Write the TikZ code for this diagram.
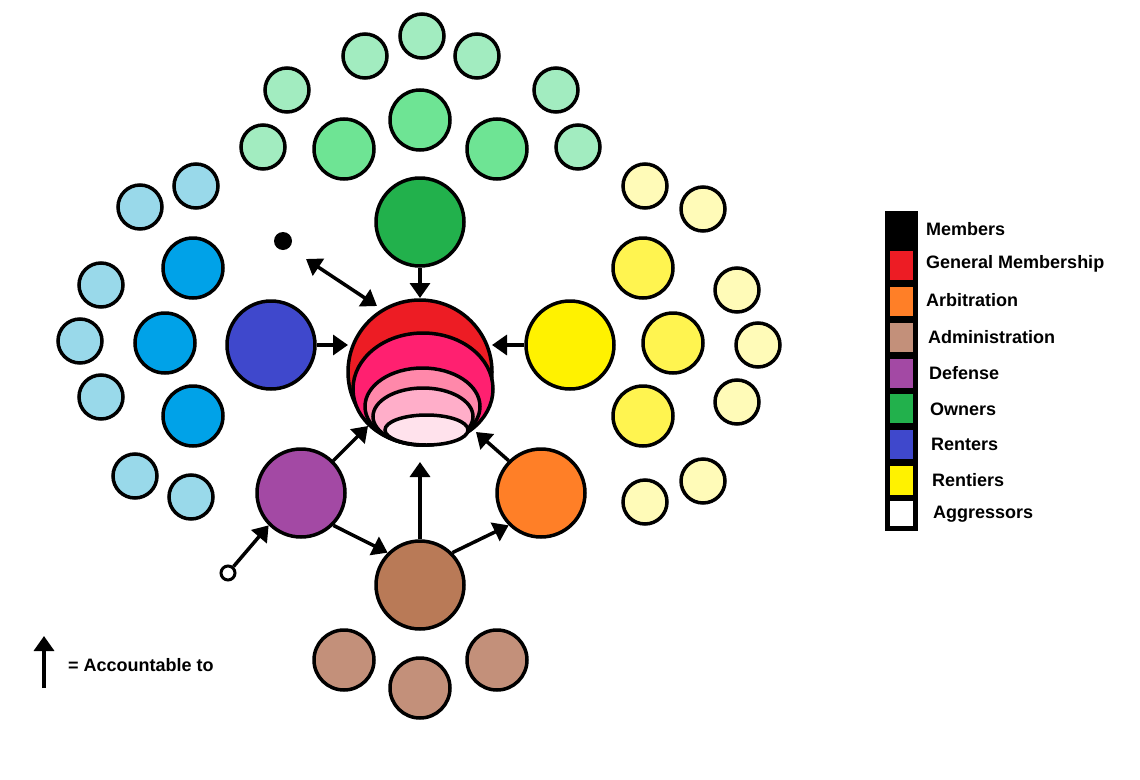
\documentclass[tikz,border=0pt]{standalone}
\usepackage{fontspec}
\setmainfont{Liberation Sans}
\usetikzlibrary{arrows.meta}
\definecolor{cred}{HTML}{ED1C24}
\definecolor{cp1}{HTML}{FF2070}
\definecolor{cp2}{HTML}{FF88AA}
\definecolor{cp3}{HTML}{FFAEC9}
\definecolor{cp4}{HTML}{FFE2EC}
\definecolor{cown}{HTML}{22B14C}
\definecolor{cren}{HTML}{3F48CC}
\definecolor{crent}{HTML}{FFF200}
\definecolor{cdef}{HTML}{A349A4}
\definecolor{carb}{HTML}{FF7F27}
\definecolor{cadm}{HTML}{B97A57}
\definecolor{gmid}{HTML}{6EE494}
\definecolor{glt}{HTML}{A2ECC0}
\definecolor{bmid}{HTML}{00A2E8}
\definecolor{blt}{HTML}{99D9EA}
\definecolor{ymid}{HTML}{FFF450}
\definecolor{ylt}{HTML}{FFFBB8}
\definecolor{brlt}{HTML}{C3907A}
\tikzset{
 circ/.style={circle,draw=black,line width=3.5pt,inner sep=0pt,minimum size=#1},
 acc/.style={line width=3.5pt,-{Triangle[length=15pt,width=20pt]}},
 legtxt/.style={anchor=west,font=\bfseries\fontsize{18}{20}\selectfont,inner sep=0pt},
 sq/.style={fill=#1,draw=none}
}
\begin{document}
\begin{tikzpicture}[x=1pt,y=-1pt]
\useasboundingbox (0,0) rectangle (1140,779);
% outer small circles
\foreach \p in {(344,149),(420,120),(497,149)} \node[circ=60,fill=gmid] at \p {};
\foreach \p in {(365,56),(422,36),(477,56),(287,90),(556,90),(263,147),(578,147)} \node[circ=44,fill=glt] at \p {};
\foreach \p in {(193,268),(165,343),(193,416)} \node[circ=60,fill=bmid] at \p {};
\foreach \p in {(196,186),(140,207),(101,285),(80,341),(101,397),(135,476),(191,497)} \node[circ=44,fill=blt] at \p {};
\foreach \p in {(643,268),(673,343),(643,416)} \node[circ=60,fill=ymid] at \p {};
\foreach \p in {(645,186),(703,209),(737,290),(758,345),(737,402),(703,481),(645,502)} \node[circ=44,fill=ylt] at \p {};
\foreach \p in {(344,660),(420,688),(497,660)} \node[circ=60,fill=brlt] at \p {};
% main circles
\node[circ=144,fill=cred] (gm) at (420,372) {};
\fill[cp1,draw=black,line width=3.5pt] (423,389) ellipse[x radius=70,y radius=56];
\fill[cp2,draw=black,line width=3.5pt] (422.5,406.5) ellipse[x radius=57.5,y radius=38.5];
\fill[cp3,draw=black,line width=3.5pt] (423,416.5) ellipse[x radius=50,y radius=28.5];
\fill[cp4,draw=black,line width=3.5pt] (426.5,430) ellipse[x radius=41.5,y radius=15];
\node[circ=88,fill=cown] (own) at (420,222) {};
\node[circ=88,fill=cren] (ren) at (271,345) {};
\node[circ=88,fill=crent] (rent) at (570,345) {};
\node[circ=88,fill=cdef] (def) at (301,493) {};
\node[circ=88,fill=carb] (arb) at (541,493) {};
\node[circ=88,fill=cadm] (adm) at (420,585) {};
\node[circle,fill=black,minimum size=18pt,inner sep=0pt] (dot) at (283,241) {};
\node[circle,draw=black,line width=3pt,fill=white,minimum size=14pt,inner sep=0pt] (agg) at (228,573) {};
% arrows
\coordinate (gmT) at (420,298);
\coordinate (gmL) at (348,345);
\coordinate (gmR) at (492,345);
\coordinate (gmBL) at (368,426);
\coordinate (gmBR) at (476,432);
\coordinate (gmB) at (420,462);
\coordinate (gmTL) at (377,306);
\coordinate (dotE) at (306,259);
\draw[acc] (own.south) -- (gmT);
\draw[acc] (ren.east) -- (gmL);
\draw[acc] (rent.west) -- (gmR);
\draw[acc] (def.north east) -- (gmBL);
\draw[acc] (arb.north west) -- (gmBR);
\draw[acc] (adm.north) -- (gmB);
\draw[line width=3.5pt,{Triangle[length=15pt,width=20pt]}-{Triangle[length=15pt,width=20pt]}] (dotE) -- (gmTL);
\draw[acc] (def.south east) -- (adm.north west);
\draw[acc] (adm.north east) -- (arb.south west);
\draw[acc] (agg) -- (def.south west);
% legend arrow
\coordinate (la1) at (44,688);
\coordinate (la2) at (44,636);
\draw[acc] (la1) -- (la2);
\node[legtxt] (lacc) at (68,665) {= Accountable to};
% legend
\fill[black] (885,211) rectangle (918,531);
\fill[sq=cred] (890,251) rectangle (913,280);
\fill[sq=carb] (890,287) rectangle (913,316);
\fill[sq=brlt] (890,323) rectangle (913,352);
\fill[sq=cdef] (890,359) rectangle (913,388);
\fill[sq=cown] (890,394) rectangle (913,423);
\fill[sq=cren] (890,430) rectangle (913,459);
\fill[sq=crent] (890,466) rectangle (913,495);
\fill[sq=white] (890,501) rectangle (913,526);
\node[legtxt] (l1) at (926,229) {Members};
\node[legtxt] (l2) at (926,264) {General Membership};
\node[legtxt] (l3) at (926,300) {Arbitration};
\node[legtxt] (l4) at (928,337) {Administration};
\node[legtxt] (l5) at (929,373) {Defense};
\node[legtxt] (l6) at (930,409) {Owners};
\node[legtxt] (l7) at (931,444) {Renters};
\node[legtxt] (l8) at (932,480) {Rentiers};
\node[legtxt] (l9) at (933,514) {Aggressors};
\end{tikzpicture}
\end{document}
